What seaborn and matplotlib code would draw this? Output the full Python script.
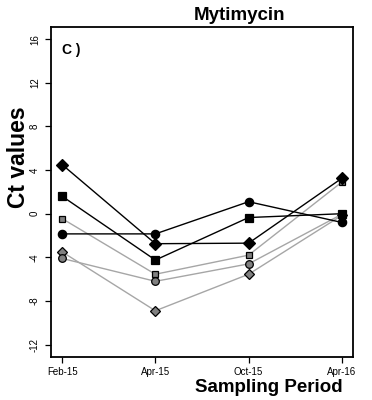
import matplotlib
matplotlib.use("Agg")
import matplotlib.pyplot as plt
import seaborn as sns
import pandas as pd

sns.set_theme(style="white")
plt.rcParams["font.family"] = ["Liberation Sans", "DejaVu Sans"]
plt.rcParams["text.color"] = "black"
plt.rcParams["axes.labelcolor"] = "black"
plt.rcParams["xtick.color"] = "black"
plt.rcParams["ytick.color"] = "black"

periods = ["Feb-15", "Apr-15", "Oct-15", "Apr-16"]
yticks = [-12, -8, -4, 0, 4, 8, 12, 16]

# Ct values per sampled series
black_diamond = [4.5, -2.75, -2.7, 3.25]
black_square = [1.6, -4.25, -0.35, 0.0]
black_circle = [-1.85, -1.85, 1.1, -0.8]
gray_square = [-0.45, -5.55, -3.8, 2.9]
gray_circle = [-4.1, -6.2, -4.6, -0.05]
gray_diamond = [-3.5, -8.9, -5.55, -0.15]

series = [
    ("gray_diamond", gray_diamond, "D", "#808080", "#a6a6a6", 5.5),
    ("gray_circle", gray_circle, "o", "#808080", "#a6a6a6", 5.5),
    ("gray_square", gray_square, "s", "#808080", "#a6a6a6", 5.0),
    ("black_circle", black_circle, "o", "black", "black", 6.0),
    ("black_square", black_square, "s", "black", "black", 5.5),
    ("black_diamond", black_diamond, "D", "black", "black", 6.0),
]

fig = plt.figure(figsize=(3.72, 4.0), dpi=100)
ax = fig.add_axes([0.137, 0.108, 0.812, 0.8245])

x = list(range(1, len(periods) + 1))
for name, vals, mk, face, line, ms in series:
    df = pd.DataFrame({"period": x, "ct": vals})
    sns.lineplot(data=df, x="period", y="ct", ax=ax, color=line, linewidth=1.0,
                 marker=mk, markersize=ms, markerfacecolor=face,
                 markeredgecolor="black", markeredgewidth=0.9, zorder=3)

ax.set_xlim(0.88, 4.12)
ax.set_ylim(-13.12, 17.12)
ax.set_xticks(x)
ax.set_xticklabels(periods, fontsize=7, color="black")
ax.set_yticks(yticks)
ax.set_yticklabels([str(v) for v in yticks], fontsize=7, rotation=90,
                   va="center", color="black")
ax.tick_params(axis="both", direction="out", length=4, width=0.9, color="black",
               labelcolor="black", left=True, bottom=True)
ax.tick_params(axis="x", pad=3)
ax.tick_params(axis="y", pad=4)
for sp in ax.spines.values():
    sp.set_visible(True)
    sp.set_color("black")
    sp.set_linewidth(1.3)
ax.set_xlabel("")
ax.set_ylabel("")
ax.grid(False)

ax.text(0.035, 0.93, "C )", transform=ax.transAxes, fontsize=10,
        fontweight="bold", ha="left", va="center", color="black")

fig.text(0.645, 0.962, "Mytimycin", fontsize=13.5, fontweight="bold",
         ha="center", va="center", color="black")
fig.text(0.051, 0.606, "Ct values", fontsize=16.5, fontweight="bold",
         ha="center", va="center", rotation=90, color="black")
fig.text(0.723, 0.032, "Sampling Period", fontsize=13.5, fontweight="bold",
         ha="center", va="center", color="black")

fig.savefig("out.png", dpi=100)
